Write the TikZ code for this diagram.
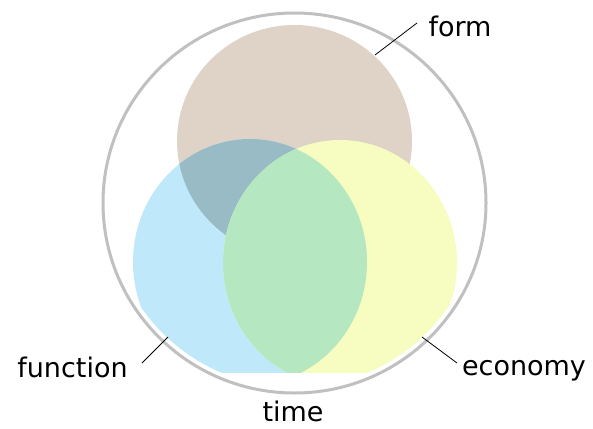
\documentclass[tikz,border=0pt]{standalone}
\usepackage{fontspec}
\setmainfont{DejaVu Sans}
\definecolor{brownc}{RGB}{223,211,199}
\definecolor{bluec}{RGB}{191,233,251}
\definecolor{tealc}{RGB}{152,187,198}
\definecolor{yellowc}{RGB}{247,253,192}
\definecolor{greenc}{RGB}{181,232,192}
\definecolor{ringc}{RGB}{192,192,192}
\begin{document}
\begin{tikzpicture}[x=1pt,y=-1pt,
  lbl/.style={font=\fontsize{27}{30}\selectfont, inner sep=0pt, anchor=base},
  leader/.style={draw=black, line width=0.8pt},
  ring/.style={draw=ringc, line width=3pt}]
\useasboundingbox (0,0) rectangle (593,428);
% form circle
\fill[brownc] (294.5,141) ellipse [x radius=117.5, y radius=116];
\begin{scope}
  \clip (0,0) rectangle (593,372);
  \clip (294.5,203) ellipse [x radius=186, y radius=184.5];
  \fill[bluec] (250,262) ellipse [x radius=117, y radius=123];
  \begin{scope}
    \clip (294.5,141) ellipse [x radius=117.5, y radius=116];
    \fill[tealc] (250,262) ellipse [x radius=117, y radius=123];
  \end{scope}
  \fill[yellowc] (340,263) ellipse [x radius=117, y radius=123];
  \begin{scope}
    \clip (250,262) ellipse [x radius=117, y radius=123];
    \fill[greenc] (340,263) ellipse [x radius=117, y radius=123];
  \end{scope}
\end{scope}
% time circle
\draw[ring] (294.5,203) ellipse [x radius=191.5, y radius=190];
% labels
\node[lbl] (form) at (460,37) {form};
\node[lbl] (function) at (72.5,377) {function};
\node[lbl] (economy) at (524,375) {economy};
\node[lbl] (time) at (293,421) {time};
% leaders
\coordinate (f1) at (417,23); \coordinate (f2) at (375,55);
\coordinate (u1) at (142,363); \coordinate (u2) at (168,337);
\coordinate (e1) at (422,337); \coordinate (e2) at (457,363);
\draw[leader] (f1) -- (f2);
\draw[leader] (u1) -- (u2);
\draw[leader] (e1) -- (e2);
\end{tikzpicture}
\end{document}
